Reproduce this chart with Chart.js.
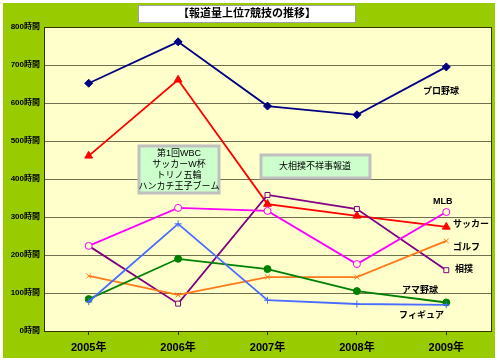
<!DOCTYPE html>
<html>
<head>
<meta charset="utf-8">
<script src="https://cdn.jsdelivr.net/npm/chart.js@4"></script>
<style>
  html, body { margin: 0; padding: 0; background: #fff; }
  #wrap { width: 500px; height: 361px; }
</style>
</head>
<body>
<div id="wrap"><canvas id="lineChart" width="500" height="361"></canvas></div>
<script>
// data
const years = ['2005年', '2006年', '2007年', '2008年', '2009年']
const proBaseball = [652, 761, 592, 569, 695]
const soccer = [461, 661, 334, 303, 274]
const mlb = [224, 324, 316, 176, 313]
const sumo = [224, 72, 358, 321, 160]
const golf = [145, 95, 142, 142, 237]
const amaBaseball = [84, 190, 163, 105, 75]
const figure = [77, 282, 81, 71, 69]

const jpFont = '"Liberation Sans", "Noto Sans CJK JP", sans-serif'

// background, plot area fill and text boxes
const decoPlugin = {
    id: 'deco',
    beforeDraw(chart) {
        const ctx = chart.ctx
        const a = chart.chartArea
        ctx.save()
        ctx.fillStyle = '#ffffff'
        ctx.fillRect(0, 0, 500, 361)
        ctx.fillStyle = '#99cc00'
        ctx.fillRect(3, 3, 492, 355)
        ctx.fillStyle = '#ffffcc'
        ctx.fillRect(a.left, a.top, a.right - a.left, a.bottom - a.top)
        ctx.restore()
    },
    afterDatasetsDraw(chart) {
        const ctx = chart.ctx
        const a = chart.chartArea
        ctx.save()
        ctx.strokeStyle = '#333300'
        ctx.lineWidth = 1
        ctx.strokeRect(a.left + 0.5, a.top + 0.5, a.right - a.left, a.bottom - a.top)

        // title box
        ctx.fillStyle = '#ffffff'
        ctx.fillRect(138, 5, 217, 17)
        ctx.strokeStyle = '#a0a0a0'
        ctx.strokeRect(138.5, 5.5, 217, 17)
        ctx.fillStyle = '#000'
        ctx.font = 'bold 11px ' + jpFont
        ctx.textAlign = 'center'
        ctx.textBaseline = 'middle'
        ctx.fillText('【報道量上位7競技の推移】', 247, 14)

        // event boxes
        ctx.fillStyle = '#ccffcc'
        ctx.strokeStyle = '#c0c0c0'
        ctx.lineWidth = 3
        ctx.fillRect(139, 146, 80, 47)
        ctx.strokeRect(139, 146, 80, 47)
        ctx.fillRect(261, 155, 109, 23)
        ctx.strokeRect(261, 155, 109, 23)
        ctx.fillStyle = '#000'
        ctx.font = '9px ' + jpFont
        const lines = ['第1回WBC', 'サッカーW杯', 'トリノ五輪', 'ハンカチ王子ブーム']
        lines.forEach((t, i) => ctx.fillText(t, 179, 154 + i * 10.7))
        ctx.fillText('大相撲不祥事報道', 315, 167)

        // series labels
        ctx.font = 'bold 9px ' + jpFont
        ctx.textAlign = 'left'
        const labels = [
            ['プロ野球', 423, 92], ['MLB', 433, 202], ['サッカー', 453, 225],
            ['ゴルフ', 453, 248], ['相撲', 455, 270], ['アマ野球', 402, 291],
            ['フィギュア', 399, 316]
        ]
        labels.forEach(l => ctx.fillText(l[0], l[1], l[2]))
        ctx.restore()
    }
}

function series(label, data, color, style, fill, radius) {
    return {
        label: label,
        data: data,
        borderColor: color,
        backgroundColor: fill,
        pointStyle: style,
        pointRadius: radius,
        pointBorderColor: color,
        pointBackgroundColor: fill,
        pointBorderWidth: 1,
        borderWidth: 1.8,
        tension: 0
    }
}

let lineChart = new Chart(document.getElementById('lineChart').getContext('2d'), {
    type: 'line',
    data: {
        labels: years,
        datasets: [
            series('プロ野球', proBaseball, '#000080', 'rectRot', '#000080', 4),
            series('フィギュア', figure, '#4a6cff', 'cross', '#4a6cff', 3.5),
            series('アマ野球', amaBaseball, '#008000', 'circle', '#008000', 3.5),
            series('ゴルフ', golf, '#ff7a1a', 'crossRot', '#ff7a1a', 3.5),
            series('MLB', mlb, '#ff00ff', 'circle', '#ffffcc', 3.5),
            series('相撲', sumo, '#800080', 'rect', '#ffffcc', 3.5),
            series('サッカー', soccer, '#ff0000', 'triangle', '#ff0000', 4.5)
        ]
    },
    plugins: [decoPlugin],
    options: {
        responsive: false,
        animation: false,
        layout: { padding: { top: 27, right: 9, left: 0, bottom: 0 } },
        plugins: {
            legend: { display: false },
            tooltip: { enabled: false }
        },
        scales: {
            x: {
                offset: true,
                afterFit: s => { s.height = 30 },
                grid: {
                    drawOnChartArea: false,
                    drawTicks: true,
                    tickLength: 4,
                    color: '#333300'
                },
                border: { color: '#333300' },
                ticks: {
                    color: '#000',
                    padding: 6,
                    font: { size: 11, weight: 'bold', family: jpFont }
                }
            },
            y: {
                min: 0,
                max: 800,
                afterFit: s => { s.width = 44 },
                grid: {
                    color: '#707050',
                    drawTicks: false
                },
                border: { color: '#333300' },
                ticks: {
                    stepSize: 100,
                    padding: 4,
                    color: '#000',
                    font: { size: 8, weight: 'bold', family: jpFont },
                    callback: v => v + '時間'
                }
            }
        }
    }
})
</script>
</body>
</html>
